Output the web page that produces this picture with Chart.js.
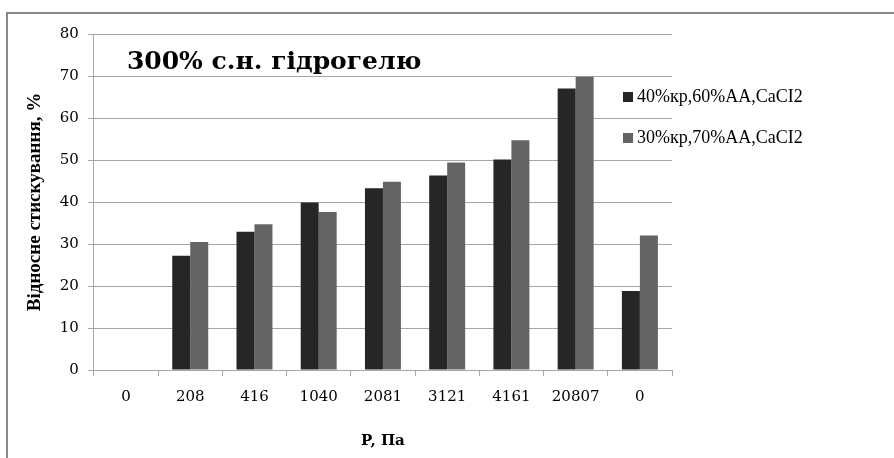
<!DOCTYPE html>
<html>
<head>
<meta charset="utf-8">
<script src="https://cdn.jsdelivr.net/npm/chart.js@4/dist/chart.umd.min.js"></script>
<style>
  body { margin: 0; background: #fff; }
  #wrap { position: relative; width: 894px; height: 458px; overflow: hidden; }
  #frame { position: absolute; left: 6px; top: 12px; width: 900px; height: 460px;
           border-left: 2px solid #8a8a8a; border-top: 2px solid #8a8a8a; }
  canvas { position: absolute; left: 0; top: 0; }
</style>
</head>
<body>
<div id="wrap">
  <div id="frame"></div>
  <canvas id="chart" width="894" height="458"></canvas>
</div>
<script>
// tick labels (pressure, Pa)
var pressure = ['0', '208', '416', '1040', '2081', '3121', '4161', '20807', '0'];
// relative compression, %
var series40 = [0, 27.2, 32.9, 39.9, 43.3, 46.3, 50.1, 67.0, 18.8];
var series30 = [0, 30.5, 34.7, 37.6, 44.8, 49.4, 54.7, 69.8, 32.0];

var wide = "'DejaVu Serif', serif";
var times = "'Liberation Serif', serif";
var gridColor = '#a6a6a6';

// title drawn inside the plot area
var innerTitle = {
    id: 'innerTitle',
    afterDraw: function(chart) {
        var ctx = chart.ctx, a = chart.chartArea;
        ctx.save();
        ctx.fillStyle = '#000';
        ctx.font = "bold 25px " + wide;
        ctx.textBaseline = 'middle';
        ctx.fillText('300% с.н. гідрогелю', a.left + 33, a.top + 28);
        ctx.restore();
    }
};

// legend sitting over the right edge of the plot
var sideLegend = {
    id: 'sideLegend',
    afterDraw: function(chart) {
        var ctx = chart.ctx, a = chart.chartArea;
        ctx.save();
        ctx.font = "18px " + times;
        ctx.textBaseline = 'middle';
        chart.data.datasets.forEach(function(ds, i) {
            var y = a.top + 63 + i * 41;
            var x = a.right - 49;
            ctx.fillStyle = ds.backgroundColor;
            ctx.fillRect(x, y - 5, 10, 10);
            ctx.fillStyle = '#000';
            ctx.fillText(ds.label, x + 14, y);
        });
        ctx.restore();
    }
};

var ctx = document.getElementById('chart').getContext('2d');
var myChart = new Chart(ctx, {
    type: 'bar',
    data: {
        labels: pressure,
        datasets: [
            {
                label: '40%кр,60%АА,CaCI2',
                data: series40,
                backgroundColor: '#262626',
                borderWidth: 0,
            },
            {
                label: '30%кр,70%АА,CaCI2',
                data: series30,
                backgroundColor: '#646464',
                borderWidth: 0,
            },
        ]
    },
    options: {
        responsive: false,
        animation: false,
        categoryPercentage: 0.56,
        barPercentage: 1,
        layout: {
            padding: { left: 20, right: 222, top: 34, bottom: 4 }
        },
        scales: {
            y: {
                min: 0,
                max: 80,
                ticks: { stepSize: 10, color: '#000', padding: 9, font: { family: wide, size: 15 } },
                grid: { color: gridColor, tickLength: 6 },
                border: { color: gridColor },
                title: {
                    display: true,
                    text: 'Відносне стискування, %',
                    color: '#000',
                    font: { family: times, size: 19, weight: 'bold' },
                    padding: { bottom: 4 }
                }
            },
            x: {
                ticks: { color: '#000', padding: 12, font: { family: wide, size: 15 } },
                grid: { offset: true, drawOnChartArea: false, color: gridColor, tickLength: 6 },
                border: { color: gridColor },
                title: {
                    display: true,
                    text: 'P, Па',
                    color: '#000',
                    font: { family: wide, size: 15, weight: 'bold' },
                    padding: { top: 14 }
                }
            }
        },
        plugins: {
            legend: { display: false },
            tooltip: { enabled: false }
        }
    },
    plugins: [innerTitle, sideLegend]
});
</script>
</body>
</html>
